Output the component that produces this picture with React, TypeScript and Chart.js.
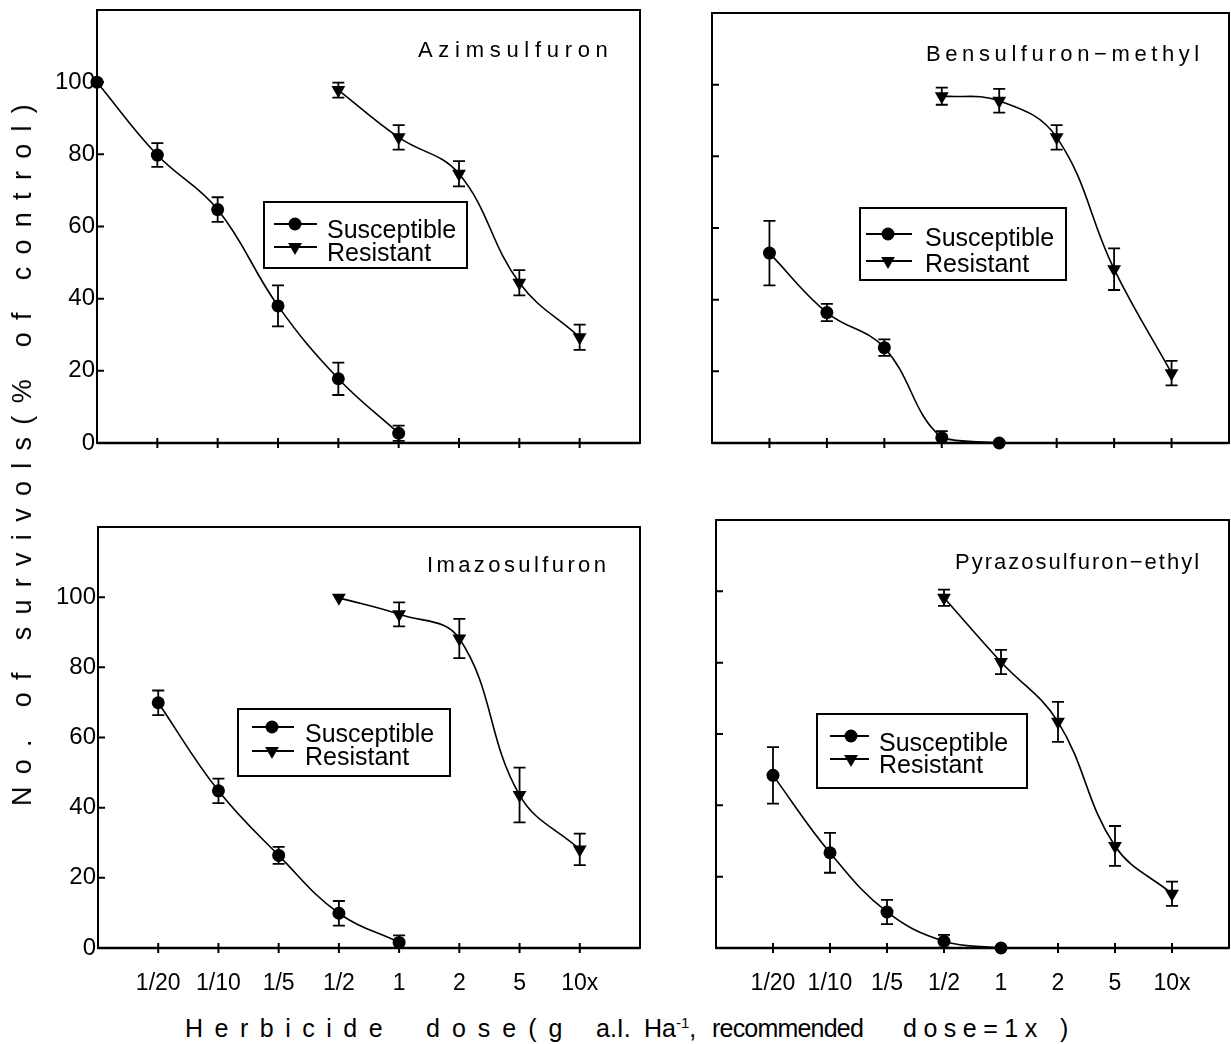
import React, { useEffect, useRef } from 'react';
import { Chart, registerables } from 'chart.js';

Chart.register(...registerables);

// ---------- data ----------
const doseTickPositions = [1, 2, 3, 4, 5, 6, 7, 8];
const doseTickLabels = ['1/20', '1/10', '1/5', '1/2', '1', '2', '5', '10x'];
const doseX = [0, 1, 2, 3, 4, 5, 6, 7, 8]; // 0 = untreated control
const yTickValues = [0, 20, 40, 60, 80, 100];
const seriesNames = ['Susceptible', 'Resistant'];
const panelTitles = ['Azimsulfuron', 'Bensulfuron\u2212methyl', 'Imazosulfuron', 'Pyrazosulfuron\u2212ethyl'];

const azimSusceptible = [100, 79.8, 64.7, 38, 17.8, 2.7, null, null, null];
const azimSusceptibleErr = [0, 3.3, 3.4, 5.7, 4.5, 2.1, 0, 0, 0];
const azimResistant = [null, null, null, null, 97.8, 84.7, 74.6, 44.4, 29.3];
const azimResistantErr = [0, 0, 0, 0, 2.1, 3.4, 3.5, 3.5, 3.5];

const benSusceptible = [null, 53, 36.4, 26.6, 1.5, 0, null, null, null];
const benSusceptibleErr = [0, 9, 2.4, 2.3, 1.8, 0, 0, 0, 0];
const benResistant = [null, null, null, null, 96.8, 95.5, 85.3, 48.5, 19.5];
const benResistantErr = [0, 0, 0, 0, 2.4, 3.3, 3.4, 5.8, 3.4];

const imaSusceptible = [null, 69.9, 44.8, 26.4, 9.9, 1.6, null, null, null];
const imaSusceptibleErr = [0, 3.5, 3.5, 2.4, 3.5, 2, 0, 0, 0];
const imaResistant = [null, null, null, null, 99.8, 95.1, 88.2, 43.6, 28.1];
const imaResistantErr = [0, 0, 0, 0, 0, 3.4, 5.6, 7.8, 4.5];

const pyrSusceptible = [null, 48.4, 26.7, 10.1, 1.9, 0, null, null, null];
const pyrSusceptibleErr = [0, 7.9, 5.6, 3.4, 1.8, 0, 0, 0, 0];
const pyrResistant = [null, null, null, null, 98.2, 80.2, 63.4, 28.6, 15.2];
const pyrResistantErr = [0, 0, 0, 0, 2.3, 3.4, 5.6, 5.6, 3.4];

// ---------- layout ----------
const FONT = '"Liberation Sans", Arial, Helvetica, sans-serif';

type Panel = {
  title: string;
  sus: (number | null)[];
  susErr: number[];
  res: (number | null)[];
  resErr: number[];
  canvas: { left: number; top: number; width: number; height: number };
  area: { left: number; top: number; right: number; bottom: number };
  showY: boolean;
  showX: boolean;
  titlePos: { x: number; y: number; spacing: number };
  legend: { x: number; y: number; w: number; h: number; m1: number; m2: number; b1: number; b2: number; lx0: number; lx1: number; mx: number; tx: number };
};

const panels: Panel[] = [
  {
    title: panelTitles[0], sus: azimSusceptible, susErr: azimSusceptibleErr, res: azimResistant, resErr: azimResistantErr,
    canvas: { left: 0, top: 0, width: 652, height: 470 },
    area: { left: 97, top: 10, right: 640, bottom: 443 },
    showY: true, showX: false,
    titlePos: { x: 418, y: 57, spacing: 5.7 },
    legend: { x: 264, y: 202, w: 203, h: 66, m1: 22, m2: 45, b1: 36, b2: 59, lx0: 10, lx1: 53, mx: 31, tx: 63 },
  },
  {
    title: panelTitles[1], sus: benSusceptible, susErr: benSusceptibleErr, res: benResistant, resErr: benResistantErr,
    canvas: { left: 652, top: 0, width: 579, height: 470 },
    area: { left: 712, top: 13, right: 1229, bottom: 443 },
    showY: false, showX: false,
    titlePos: { x: 926, y: 61, spacing: 4.6 },
    legend: { x: 860, y: 208, w: 206, h: 72, m1: 26, m2: 53, b1: 38, b2: 64, lx0: 6, lx1: 52, mx: 28, tx: 65 },
  },
  {
    title: panelTitles[2], sus: imaSusceptible, susErr: imaSusceptibleErr, res: imaResistant, resErr: imaResistantErr,
    canvas: { left: 0, top: 470, width: 652, height: 540 },
    area: { left: 98, top: 527, right: 640, bottom: 948 },
    showY: true, showX: true,
    titlePos: { x: 427, y: 572, spacing: 3.4 },
    legend: { x: 238, y: 709, w: 212, h: 67, m1: 18, m2: 42, b1: 33, b2: 56, lx0: 14, lx1: 56, mx: 34, tx: 67 },
  },
  {
    title: panelTitles[3], sus: pyrSusceptible, susErr: pyrSusceptibleErr, res: pyrResistant, resErr: pyrResistantErr,
    canvas: { left: 652, top: 470, width: 579, height: 540 },
    area: { left: 716, top: 520, right: 1229, bottom: 948 },
    showY: false, showX: true,
    titlePos: { x: 955, y: 569, spacing: 2 },
    legend: { x: 817, y: 714, w: 210, h: 74, m1: 22, m2: 45, b1: 37, b2: 59, lx0: 13, lx1: 52, mx: 34, tx: 62 },
  },
];

function toPoints(values: (number | null)[], errs: number[]) {
  const pts: { x: number; y: number; e: number }[] = [];
  values.forEach((v, i) => {
    if (v !== null) pts.push({ x: doseX[i], y: v, e: errs[i] });
  });
  return pts;
}

function drawMarker(ctx: CanvasRenderingContext2D, kind: 'circle' | 'tri', x: number, y: number) {
  ctx.beginPath();
  if (kind === 'circle') {
    ctx.arc(x, y, 6.5, 0, Math.PI * 2);
  } else {
    const r = 8;
    ctx.moveTo(x - r * 0.866, y - r * 0.5);
    ctx.lineTo(x + r * 0.866, y - r * 0.5);
    ctx.lineTo(x, y + r);
    ctx.closePath();
  }
  ctx.fillStyle = '#000';
  ctx.fill();
}

function zeroPad(s: any) {
  s.paddingLeft = 0;
  s.paddingRight = 0;
  s.paddingTop = 0;
  s.paddingBottom = 0;
}

function PanelChart({ p }: { p: Panel }) {
  const ref = useRef<HTMLCanvasElement>(null);
  useEffect(() => {
    const canvas = ref.current!;
    const off = p.canvas;
    const yW = p.area.left - off.left;
    const xH = off.top + off.height - p.area.bottom;

    const panelPlugin = {
      id: 'panelDecor',
      afterDatasetsDraw(chart: any) {
        const ctx: CanvasRenderingContext2D = chart.ctx;
        const a = chart.chartArea;
        const xs = chart.scales.x;
        const ys = chart.scales.y;
        ctx.save();
        // error bars
        chart.data.datasets.forEach((ds: any, di: number) => {
          const meta = chart.getDatasetMeta(di);
          ds.data.forEach((pt: any, i: number) => {
            if (!pt.e) return;
            const px = meta.data[i].x;
            const top = ys.getPixelForValue(pt.y + pt.e);
            const bot = ys.getPixelForValue(Math.max(0, pt.y - pt.e));
            ctx.strokeStyle = '#000';
            ctx.lineWidth = 1.8;
            ctx.beginPath();
            ctx.moveTo(px, top); ctx.lineTo(px, bot);
            ctx.moveTo(px - 6, top); ctx.lineTo(px + 6, top);
            ctx.moveTo(px - 6, bot); ctx.lineTo(px + 6, bot);
            ctx.stroke();
          });
        });
        // frame
        ctx.strokeStyle = '#000';
        ctx.lineWidth = 2;
        ctx.strokeRect(a.left, a.top, a.right - a.left, a.bottom - a.top);
        ctx.lineWidth = 2.4;
        ctx.beginPath();
        ctx.moveTo(a.left, a.bottom); ctx.lineTo(a.right, a.bottom);
        ctx.stroke();
        // y ticks (inward)
        ctx.lineWidth = 2;
        ctx.beginPath();
        yTickValues.forEach((v) => {
          const py = ys.getPixelForValue(v);
          ctx.moveTo(a.left, py); ctx.lineTo(a.left + 7, py);
        });
        // x ticks (crossing axis)
        doseTickPositions.forEach((v) => {
          const px = xs.getPixelForValue(v);
          ctx.moveTo(px, a.bottom - 5); ctx.lineTo(px, a.bottom + 5);
        });
        ctx.stroke();
        // title
        ctx.fillStyle = '#000';
        ctx.font = `22px ${FONT}`;
        (ctx as any).letterSpacing = `${p.titlePos.spacing}px`;
        ctx.textAlign = 'left';
        ctx.textBaseline = 'alphabetic';
        ctx.fillText(p.title, p.titlePos.x - off.left, p.titlePos.y - off.top);
        (ctx as any).letterSpacing = '0px';
        // legend
        const L = p.legend;
        const lx = L.x - off.left;
        const ly = L.y - off.top;
        ctx.fillStyle = '#fff';
        ctx.fillRect(lx, ly, L.w, L.h);
        ctx.lineWidth = 2;
        ctx.strokeStyle = '#000';
        ctx.strokeRect(lx, ly, L.w, L.h);
        const rows: { kind: 'circle' | 'tri'; m: number; b: number; label: string }[] = [
          { kind: 'circle', m: L.m1, b: L.b1, label: seriesNames[0] },
          { kind: 'tri', m: L.m2, b: L.b2, label: seriesNames[1] },
        ];
        rows.forEach((r) => {
          ctx.lineWidth = 1.8;
          ctx.beginPath();
          ctx.moveTo(lx + L.lx0, ly + r.m); ctx.lineTo(lx + L.lx1, ly + r.m);
          ctx.stroke();
          drawMarker(ctx, r.kind, lx + L.mx, ly + r.m);
          ctx.fillStyle = '#000';
          ctx.font = `25px ${FONT}`;
          ctx.fillText(r.label, lx + L.tx, ly + r.b);
        });
        ctx.restore();
      },
    };

    const chart = new Chart(canvas, {
      type: 'line',
      data: {
        datasets: [
          {
            label: seriesNames[0],
            data: toPoints(p.sus, p.susErr) as any,
            borderColor: '#000', borderWidth: 1.6, tension: 0.4,
            pointStyle: 'circle', pointRadius: 6.5, pointBackgroundColor: '#000', pointBorderColor: '#000', pointBorderWidth: 0,
            clip: false as any,
          },
          {
            label: seriesNames[1],
            data: toPoints(p.res, p.resErr) as any,
            borderColor: '#000', borderWidth: 1.6, tension: 0.4,
            pointStyle: 'triangle', pointRotation: 180, pointRadius: 8, pointBackgroundColor: '#000', pointBorderColor: '#000', pointBorderWidth: 0,
            clip: false as any,
          },
        ],
      },
      options: {
        responsive: false,
        animation: false,
        devicePixelRatio: 1,
        layout: {
          autoPadding: false,
          padding: {
            left: 0,
            top: p.area.top - off.top,
            right: off.left + off.width - p.area.right,
            bottom: 0,
          },
        },
        plugins: { legend: { display: false }, tooltip: { enabled: false } },
        scales: {
          x: {
            type: 'linear', min: 0, max: 9,
            grid: { display: false, drawTicks: false },
            border: { display: false },
            afterBuildTicks: (s: any) => { s.ticks = doseTickPositions.map((v) => ({ value: v })); },
            afterFit: (s: any) => { s.height = xH; zeroPad(s); },
            ticks: {
              display: p.showX, autoSkip: false, maxRotation: 0, padding: 22, color: '#000',
              font: { family: FONT, size: 23 },
              callback: (v: any) => doseTickLabels[doseTickPositions.indexOf(Number(v))] ?? '',
            },
          },
          y: {
            type: 'linear', min: 0, max: 120,
            grid: { display: false, drawTicks: false },
            border: { display: false },
            afterBuildTicks: (s: any) => { s.ticks = yTickValues.map((v) => ({ value: v })); },
            afterFit: (s: any) => { s.width = yW; zeroPad(s); },
            ticks: {
              display: p.showY, padding: 2, color: '#000',
              font: { family: FONT, size: 24 },
            },
          },
        },
      } as any,
      plugins: [panelPlugin],
    });
    return () => chart.destroy();
  }, [p]);
  return (
    <canvas
      ref={ref}
      width={p.canvas.width}
      height={p.canvas.height}
      style={{ position: 'absolute', left: p.canvas.left, top: p.canvas.top, width: p.canvas.width, height: p.canvas.height, display: 'block' }}
    />
  );
}

const xTitleStyle: React.CSSProperties = { position: 'absolute', top: 1016, whiteSpace: 'pre', fontSize: 25, lineHeight: '25px' };

export default function App() {
  return (
    <div style={{ position: 'absolute', left: 0, top: 0, width: 1231, height: 1044, background: '#fff', overflow: 'hidden', fontFamily: FONT, color: '#000' }}>
      {panels.map((p, i) => <PanelChart key={i} p={p} />)}
      <div
        style={{
          position: 'absolute', left: 22, top: 449, transform: 'translate(-50%, -50%) rotate(-90deg)',
          whiteSpace: 'pre', fontSize: 27, letterSpacing: '12.3px', lineHeight: '30px',
        }}
      >
        No. of survivols(% of control)
      </div>
      <span style={{ ...xTitleStyle, left: 185, letterSpacing: '11.5px' }}>Herbicide</span>
      <span style={{ ...xTitleStyle, left: 426, letterSpacing: '12px' }}>dose(g</span>
      <span style={{ ...xTitleStyle, left: 596 }}>a.I.</span>
      <span style={{ ...xTitleStyle, left: 644 }}>
        Ha<sup style={{ fontSize: 15, lineHeight: 0, verticalAlign: '9px' }}>-1</sup>,
      </span>
      <span style={{ ...xTitleStyle, left: 712, letterSpacing: '-0.8px' }}>recommended</span>
      <span style={{ ...xTitleStyle, left: 903, letterSpacing: '6.5px' }}>dose=1x</span>
      <span style={{ ...xTitleStyle, left: 1060 }}>)</span>
    </div>
  );
}
